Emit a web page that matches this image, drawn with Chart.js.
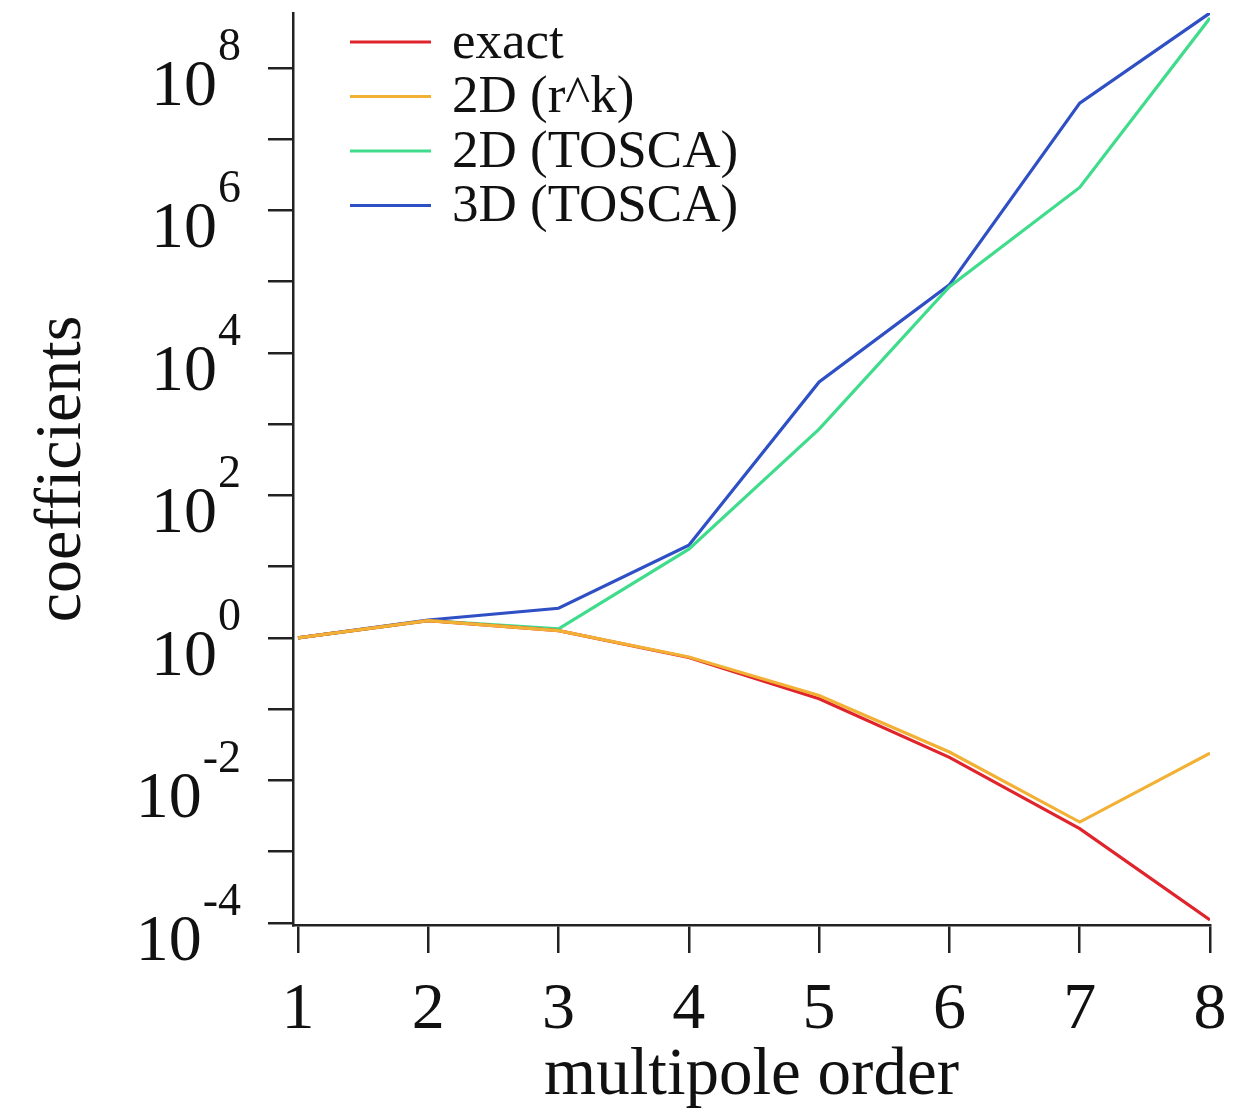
<!DOCTYPE html>
<html>
<head>
<meta charset="utf-8">
<title>multipole coefficients</title>
<script src="https://cdn.jsdelivr.net/npm/chart.js@4.4.1/dist/chart.umd.min.js"></script>
<style>
  html, body { margin: 0; padding: 0; background: #fff; }
  #wrap { width: 1250px; height: 1120px; }
</style>
</head>
<body>
<div id="wrap"><canvas id="coefChart" width="1250" height="1120"></canvas></div>
<script>
// multipole order on the x axis
const orders = [1, 2, 3, 4, 5, 6, 7, 8];

// coefficient values
const exactValues  = [1, 1.74, 1.26, 0.53, 0.14, 0.021, 0.0021, 0.00011];
const rkValues     = [1, 1.74, 1.26, 0.54, 0.155, 0.025, 0.0026, 0.024];
const tosca2dValues = [1, 1.74, 1.34, 17.6, 850, 85000, 2.1e6, 5.0e8];
const tosca3dValues = [1, 1.78, 2.6, 20, 3900, 90000, 3.2e7, 5.9e8];

// decade exponents for tick marks, labelled ones are the even ones
const decadeExps = [-4, -3, -2, -1, 0, 1, 2, 3, 4, 5, 6, 7, 8];
const labelExps = [-4, -2, 0, 2, 4, 6, 8];

const seriesNames = ['exact', '2D (r^k)', '2D (TOSCA)', '3D (TOSCA)'];
const seriesColors = ['#e0242c', '#f2b134', '#3fdc8c', '#2f4fc4'];

const SERIF = '"Liberation Serif", "Times New Roman", serif';

function toPoints(values) {
    return orders.map((x, i) => ({ x: x, y: values[i] }));
}

/**
 * Y tick labels as 10 with a raised exponent
 */
const powerLabels = {
    id: 'powerLabels',
    afterDraw(chart) {
        const ctx = chart.ctx;
        const yScale = chart.scales.y;
        const rightEdge = 241;
        ctx.save();
        ctx.fillStyle = '#111';
        ctx.textBaseline = 'alphabetic';
        labelExps.forEach(e => {
            const y = yScale.getPixelForValue(Math.pow(10, e));
            const expText = String(e);
            ctx.font = '46px ' + SERIF;
            ctx.textAlign = 'right';
            const expWidth = ctx.measureText(expText).width;
            ctx.fillText(expText, rightEdge, y - 8);
            ctx.font = '66px ' + SERIF;
            ctx.fillText('10', rightEdge - expWidth - 1, y + 37);
        });
        ctx.restore();
    }
};

/**
 * Legend in the top left corner of the plot
 */
const cornerLegend = {
    id: 'cornerLegend',
    afterDraw(chart) {
        const ctx = chart.ctx;
        const x0 = 350, x1 = 431, textX = 452;
        const firstY = 42, rowGap = 54.5;
        ctx.save();
        ctx.font = '53px ' + SERIF;
        ctx.textAlign = 'left';
        ctx.textBaseline = 'middle';
        chart.data.datasets.forEach((ds, i) => {
            const y = firstY + i * rowGap;
            ctx.strokeStyle = ds.borderColor;
            ctx.lineWidth = 3;
            ctx.beginPath();
            ctx.moveTo(x0, y);
            ctx.lineTo(x1, y);
            ctx.stroke();
            ctx.fillStyle = '#111';
            ctx.fillText(ds.label, textX, y + 2);
        });
        ctx.restore();
    }
};

const datasetList = [exactValues, rkValues, tosca2dValues, tosca3dValues];
// drawing order: r^k on top, then exact, then the TOSCA curves
const drawOrder = [1, 0, 2, 3];

new Chart(document.getElementById('coefChart'), {
    type: 'line',
    data: {
        datasets: datasetList.map((vals, i) => ({
            label: seriesNames[i],
            data: toPoints(vals),
            borderColor: seriesColors[i],
            backgroundColor: seriesColors[i],
            borderWidth: 3.2,
            pointRadius: 0,
            tension: 0,
            fill: false,
            order: drawOrder[i]
        }))
    },
    options: {
        responsive: false,
        animation: false,
        devicePixelRatio: 1,
        layout: { padding: { top: 13, right: 40, left: 0, bottom: 0 } },
        plugins: {
            legend: { display: false },
            tooltip: { enabled: false }
        },
        scales: {
            x: {
                type: 'linear',
                min: 0.962,
                max: 8,
                afterBuildTicks(scale) {
                    scale.ticks = orders.map(v => ({ value: v }));
                },
                afterFit(scale) { scale.height = 195; },
                border: { display: true, color: '#222', width: 2.5 },
                grid: { drawOnChartArea: false, drawTicks: true, tickLength: 28, color: '#222', lineWidth: 2.5 },
                ticks: {
                    color: '#111',
                    padding: 18,
                    maxRotation: 0,
                    font: { family: SERIF, size: 66 },
                    callback: v => String(v)
                },
                title: {
                    display: true,
                    text: 'multipole order',
                    color: '#111',
                    padding: { top: 0, bottom: 3 },
                    font: { family: SERIF, size: 67 }
                }
            },
            y: {
                type: 'logarithmic',
                min: Math.pow(10, -4.03),
                max: Math.pow(10, 8.77),
                afterBuildTicks(scale) {
                    scale.ticks = decadeExps.map(e => ({ value: Math.pow(10, e) }));
                },
                afterFit(scale) { scale.width = 293; },
                border: { display: true, color: '#222', width: 2.5 },
                grid: { drawOnChartArea: false, drawTicks: true, tickLength: 25, color: '#222', lineWidth: 2.5 },
                ticks: { display: false },
                title: {
                    display: true,
                    text: 'coefficients',
                    color: '#111',
                    padding: { top: 23, bottom: 0 },
                    font: { family: SERIF, size: 66 }
                }
            }
        }
    },
    plugins: [powerLabels, cornerLegend]
});
</script>
</body>
</html>
